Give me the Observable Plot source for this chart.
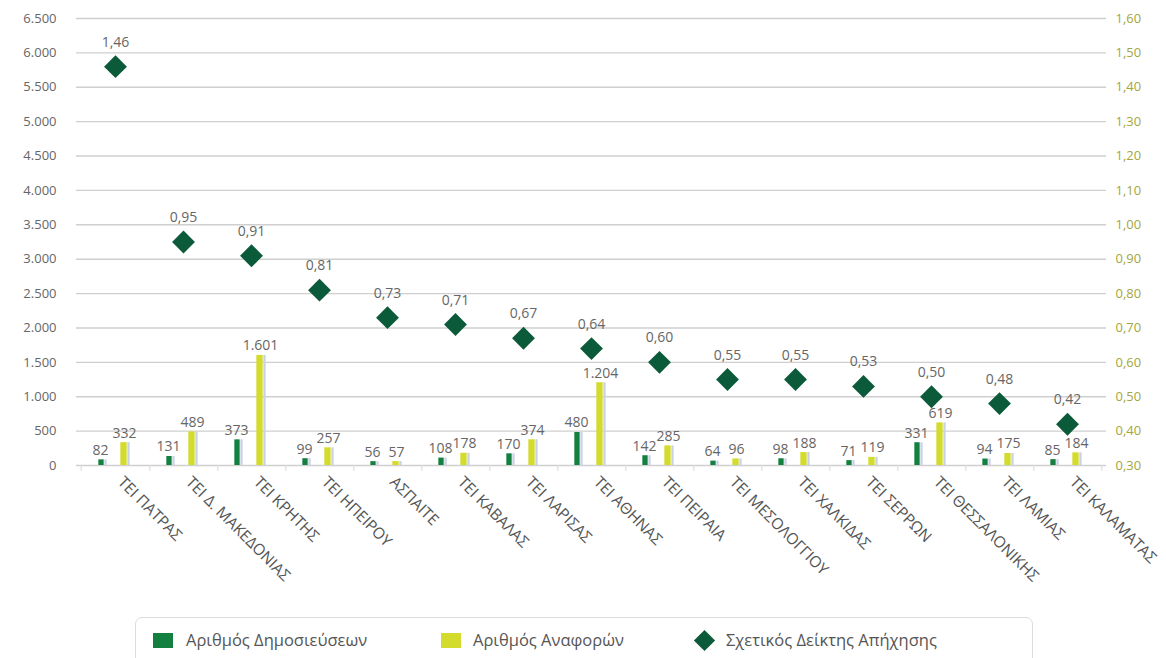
<!DOCTYPE html>
<html>
<head>
<meta charset="utf-8">
<script src="https://cdn.jsdelivr.net/npm/d3@7"></script>
<script src="https://cdn.jsdelivr.net/npm/@observablehq/plot@0.6"></script>
<style>
  body { margin: 0; background: #fff; font-family: "Open Sans", "Noto Sans", sans-serif; }
  #wrap { position: relative; width: 1166px; height: 658px; overflow: hidden; }
  #legend { position: absolute; left: 135px; top: 617px; width: 898px; height: 50px; border: 1px solid #dcdcdc; border-radius: 7px; box-sizing: border-box; }
  .li { position: absolute; top: 12px; font-size: 16.5px; color: #555; line-height: 20px; white-space: nowrap; }
  .sw { position: absolute; }
</style>
</head>
<body>
<div id="wrap">
  <div id="chart"></div>
  <div id="legend"></div>
</div>
<script>
const categories = ["ΤΕΙ ΠΑΤΡΑΣ","ΤΕΙ Δ. ΜΑΚΕΔΟΝΙΑΣ","ΤΕΙ ΚΡΗΤΗΣ","ΤΕΙ ΗΠΕΙΡΟΥ","ΑΣΠΑΙΤΕ","ΤΕΙ ΚΑΒΑΛΑΣ","ΤΕΙ ΛΑΡΙΣΑΣ","ΤΕΙ ΑΘΗΝΑΣ","ΤΕΙ ΠΕΙΡΑΙΑ","ΤΕΙ ΜΕΣΟΛΟΓΓΙΟΥ","ΤΕΙ ΧΑΛΚΙΔΑΣ","ΤΕΙ ΣΕΡΡΩΝ","ΤΕΙ ΘΕΣΣΑΛΟΝΙΚΗΣ","ΤΕΙ ΛΑΜΙΑΣ","ΤΕΙ ΚΑΛΑΜΑΤΑΣ"];
const publications = [82,131,373,99,56,108,170,480,142,64,98,71,331,94,85];
const citations = [332,489,1601,257,57,178,374,1204,285,96,188,119,619,175,184];
const impactIndex = [1.46,0.95,0.91,0.81,0.73,0.71,0.67,0.64,0.60,0.55,0.55,0.53,0.50,0.48,0.42];
const leftTicks = d3.range(0, 6501, 500);
const rightDomain = [0.30, 1.60];
const seriesNames = ["Αριθμός Δημοσιεύσεων","Αριθμός Αναφορών","Σχετικός Δείκτης Απήχησης"];

const C_PUB = "#14803f", C_CIT = "#d3dc2c", C_IDX = "#0b5a3a", C_TXT = "#666";
const leftMax = 6500;
// map right-axis values onto the left scale domain
const toLeft = v => (v - rightDomain[0]) / (rightDomain[1] - rightDomain[0]) * leftMax;
const fromLeft = d => d / leftMax * (rightDomain[1] - rightDomain[0]) + rightDomain[0];

const rows = categories.map((c, i) => ({cat: c, pub: publications[i], cit: citations[i], idx: impactIndex[i], idxL: toLeft(impactIndex[i])}));

const W = 1166, H = 610, mL = 76, mR = 60;
const bw = (W - mL - mR) / categories.length, half = bw / 2;

const fmtInt = d => d3.format(",")(d).replace(/,/g, ".");
const fmtDec = d => d.toFixed(2).replace(".", ",");

const chart = Plot.plot({
  width: W, height: H,
  marginTop: 18, marginBottom: 145, marginLeft: mL, marginRight: mR,
  style: {fontFamily: "'Open Sans', 'Noto Sans', sans-serif", color: C_TXT, background: "#fff"},
  x: {domain: categories, padding: 0, label: null},
  y: {domain: [0, leftMax], label: null},
  marks: [
    Plot.gridY(leftTicks, {stroke: "#cfcfcf", strokeOpacity: 1, strokeWidth: 1.4}),
    Plot.ruleX(categories, {x: d => d, y1: 0, y2: 0, dx: half, insetBottom: -6, stroke: "#d8d8d8"}),
    Plot.ruleX(categories.slice(0,1), {x: d => d, y1: 0, y2: 0, dx: -half, insetBottom: -6, stroke: "#d8d8d8"}),
    Plot.axisY(leftTicks, {anchor: "left", tickSize: 0, tickPadding: 20, tickFormat: fmtInt, fontSize: 13, fill: "#666", label: null}),
    Plot.axisY(leftTicks, {anchor: "right", tickSize: 0, tickPadding: 9, tickFormat: d => fmtDec(fromLeft(d)), fontSize: 13, fill: "#a3a640", label: null}),
    Plot.axisX({tickSize: 0, tickPadding: 14, tickRotate: 45, textAnchor: "start", fontSize: 15.5, fill: "#555", dx: 5, label: null}),
    // bar shadows
    Plot.barY(rows, {x: "cat", y: "pub", fill: "#c9d3e6", insetLeft: half - 11, insetRight: half + 8}),
    Plot.barY(rows, {x: "cat", y: "cit", fill: "#c9d3e6", insetLeft: half + 12, insetRight: half - 15}),
    Plot.barY(rows, {x: "cat", y: "pub", fill: C_PUB, insetLeft: half - 17, insetRight: half + 11}),
    Plot.barY(rows, {x: "cat", y: "cit", fill: C_CIT, insetLeft: half + 5, insetRight: half - 12}),
    Plot.text(rows, {x: "cat", y: "pub", text: d => fmtInt(d.pub), dx: -15, dy: -5, lineAnchor: "bottom", fontSize: 14, fill: C_TXT}),
    Plot.text(rows, {x: "cat", y: "cit", text: d => fmtInt(d.cit), dx: 9, dy: -5, lineAnchor: "bottom", fontSize: 14, fill: C_TXT}),
    Plot.dot(rows, {x: "cat", y: "idxL", symbol: "diamond2", r: 10.3, fill: C_IDX, stroke: "none"}),
    Plot.text(rows, {x: "cat", y: "idxL", text: d => fmtDec(d.idx), dy: -20, lineAnchor: "bottom", fontSize: 14, fill: C_TXT})
  ]
});
document.getElementById("chart").appendChild(chart);

// legend
const lg = document.getElementById("legend");
const items = [
  {name: seriesNames[0], color: C_PUB, type: "rect", sx: 17, tx: 50},
  {name: seriesNames[1], color: C_CIT, type: "rect", sx: 305, tx: 337},
  {name: seriesNames[2], color: C_IDX, type: "diamond", sx: 558, tx: 590}
];
items.forEach(it => {
  const sw = document.createElement("div");
  sw.className = "sw";
  if (it.type === "rect") {
    Object.assign(sw.style, {left: it.sx + "px", top: "15px", width: "20px", height: "15px", background: it.color});
  } else {
    Object.assign(sw.style, {left: (it.sx + 3) + "px", top: "15px", width: "15px", height: "15px", background: it.color, transform: "rotate(45deg)"});
  }
  lg.appendChild(sw);
  const t = document.createElement("div");
  t.className = "li";
  t.style.left = it.tx + "px";
  t.textContent = it.name;
  lg.appendChild(t);
});
</script>
</body>
</html>
